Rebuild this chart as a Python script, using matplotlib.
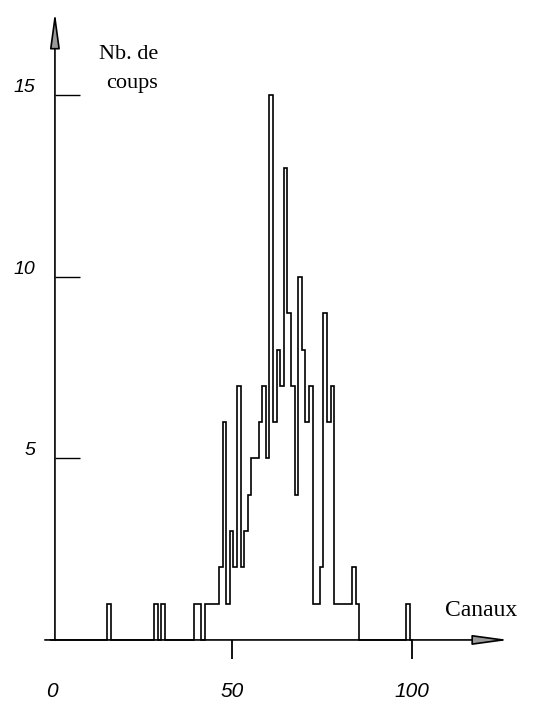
import matplotlib
matplotlib.use('Agg')
import matplotlib.pyplot as plt
import numpy as np
from matplotlib.transforms import ScaledTranslation

# counts per channel (only non-empty channels)
channels = [16, 29, 31, 40, 41, 43, 44, 45, 46, 47, 48, 49, 50, 51, 52, 53, 54,
            55, 56, 57, 58, 59, 60, 61, 62, 63, 64, 65, 66, 67, 68, 69, 70, 71,
            72, 73, 74, 75, 76, 77, 78, 79, 80, 81, 82, 83, 84, 85, 99]
counts = [1, 1, 1, 1, 1, 1, 1, 1, 1, 2, 6, 1, 3, 2, 7, 2, 3,
          4, 5, 5, 6, 7, 5, 15, 6, 8, 7, 13, 9, 7, 4, 10, 8, 6,
          7, 1, 1, 2, 9, 6, 7, 1, 1, 1, 1, 1, 2, 1, 1]

y_ticks = [5, 10, 15]
y_tick_labels = ['5', '10', '15']
x_ticks = [0, 50, 100]
x_tick_labels = ['0', '50', '100']
y_title = 'Nb. de\ncoups'
x_title = 'Canaux'

hist = np.zeros(101)
hist[channels] = counts
edges = np.arange(102) - 0.5

fig = plt.figure(figsize=(5.4, 7.1), dpi=100)
ax = fig.add_axes([0, 0, 1, 1])
ax.set_xlim(-14.36, 135.64)
ax.set_ylim(-1.93, 17.63)

ax.stairs(hist, edges, color='black', lw=1.2)

for s in ax.spines.values():
    s.set_color('none')
ax.spines['left'].set_position(('data', 0.9))
ax.spines['bottom'].set_position(('data', 0))

ax.set_yticks(y_ticks, y_tick_labels)
ax.set_xticks(x_ticks, x_tick_labels)
ax.tick_params(axis='y', direction='in', length=18, width=1.0, pad=14, labelsize=14)
ax.tick_params(axis='x', direction='out', length=14, width=1.3, pad=16, labelsize=15)
ax.xaxis.get_major_ticks()[0].tick1line.set_visible(False)

up = ScaledTranslation(0, 7 / 72, fig.dpi_scale_trans)
for lab in ax.get_yticklabels():
    lab.set_transform(lab.get_transform() + up)
for lab in ax.get_xticklabels() + ax.get_yticklabels():
    lab.set_fontstyle('italic')
    lab.set_fontfamily('Liberation Sans')

arrow = dict(arrowstyle='-|>,head_length=2.2,head_width=0.3', lw=1.2,
             fc='0.6', ec='black', shrinkA=0, shrinkB=0)
ax.annotate('', xy=(0.9, 17.3), xytext=(0.9, 0), arrowprops=arrow)
ax.annotate('', xy=(127, 0), xytext=(-1.9, 0), arrowprops=arrow)

fig.text(158 / 540, 1 - 69 / 710, y_title, ha='right', va='center',
         multialignment='right', family='Liberation Serif', fontsize=16,
         linespacing=1.65)
fig.text(445 / 540, 1 - 610 / 710, x_title, ha='left', va='center',
         family='Liberation Serif', fontsize=17)

fig.savefig('out.png', dpi=100)
